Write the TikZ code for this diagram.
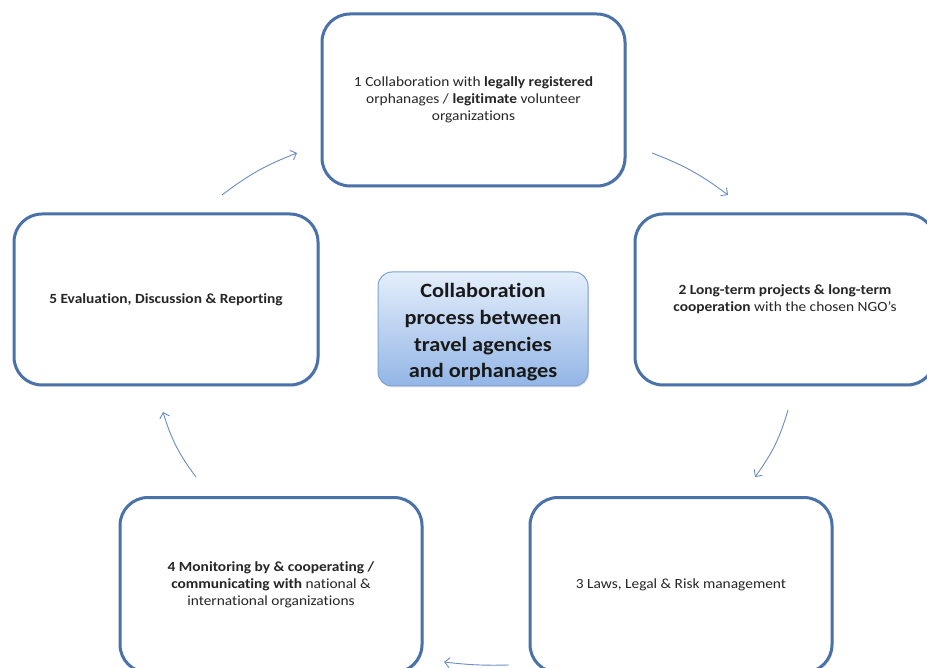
\documentclass[tikz,border=0pt]{standalone}
\usepackage{fontspec}
\setmainfont[FakeStretch=1.1,Ligatures=NoCommon]{Carlito}
\usetikzlibrary{arrows.meta,shadows}
\definecolor{boxblue}{HTML}{4A72A8}
\definecolor{arrblue}{HTML}{6A8CC0}
\definecolor{ctop}{HTML}{E4EEFB}
\definecolor{cbot}{HTML}{93B6E6}
\definecolor{cborder}{HTML}{7EA2D2}
\tikzset{
  stepbox/.style={draw=boxblue, line width=3pt, rounded corners=28pt, fill=white,
    text=black!85, font=\fontsize{14}{17}\selectfont, align=center, inner sep=0pt,
    drop shadow={opacity=0.25, shadow xshift=1.5pt, shadow yshift=-1.5pt}},
  centerbox/.style={draw=cborder, line width=1pt, rounded corners=14pt,
    top color=ctop, bottom color=cbot, text=black!90,
    font=\bfseries\fontsize{20.3}{26.7}\selectfont, align=center, inner sep=0pt,
    drop shadow={opacity=0.2, shadow xshift=1pt, shadow yshift=-1.5pt}},
  cyc/.style={draw=arrblue, line width=0.9pt, -{Straight Barb[length=5pt,width=10pt]}}
}
\begin{document}
\begin{tikzpicture}[x=1pt,y=-1pt]
\useasboundingbox (0,0) rectangle (927,668);
% boxes
\node[stepbox, minimum width=303pt, minimum height=172pt] (b1) at (473.5,100)
  {1 Collaboration with \textbf{legally registered}\\orphanages / \textbf{legitimate} volunteer\\organizations};
\node[stepbox, minimum width=300pt, minimum height=171pt] (b2) at (785,299.5)
  {\textbf{2 Long-term projects \& long-term}\\\textbf{cooperation} with the chosen NGO’s};
\node[stepbox, minimum width=302pt, minimum height=175pt] (b3) at (681,585)
  {3 Laws, Legal \& Risk management};
\node[stepbox, minimum width=302pt, minimum height=175pt] (b4) at (271,585)
  {\textbf{4 Monitoring by \& cooperating /}\\\textbf{communicating with} national \&\\international organizations};
\node[stepbox, minimum width=304pt, minimum height=171pt] (b5) at (166,299.5)
  {\textbf{5 Evaluation, Discussion \& Reporting}};
\node[centerbox, minimum width=210pt, minimum height=114pt] (c) at (483,329)
  {\rule{0pt}{21pt}Collaboration\\process between\\travel agencies\\and orphanages};
% arrow end points
\coordinate (a1s) at (652,153); \coordinate (a1e) at (728,195);
\coordinate (a2s) at (788,410); \coordinate (a2e) at (755,477);
\coordinate (a3s) at (509,665); \coordinate (a3e) at (444,662);
\coordinate (a4s) at (196,477); \coordinate (a4e) at (163,412);
\coordinate (a5s) at (222,195); \coordinate (a5e) at (297,153);
\draw[cyc] (a1s) to[bend left=8] (a1e);
\draw[cyc] (a2s) to[bend left=10] (a2e);
\draw[cyc] (a3s) to[bend left=4] (a3e);
\draw[cyc] (a4s) to[bend left=10] (a4e);
\draw[cyc] (a5s) to[bend left=8] (a5e);
\end{tikzpicture}
\end{document}
